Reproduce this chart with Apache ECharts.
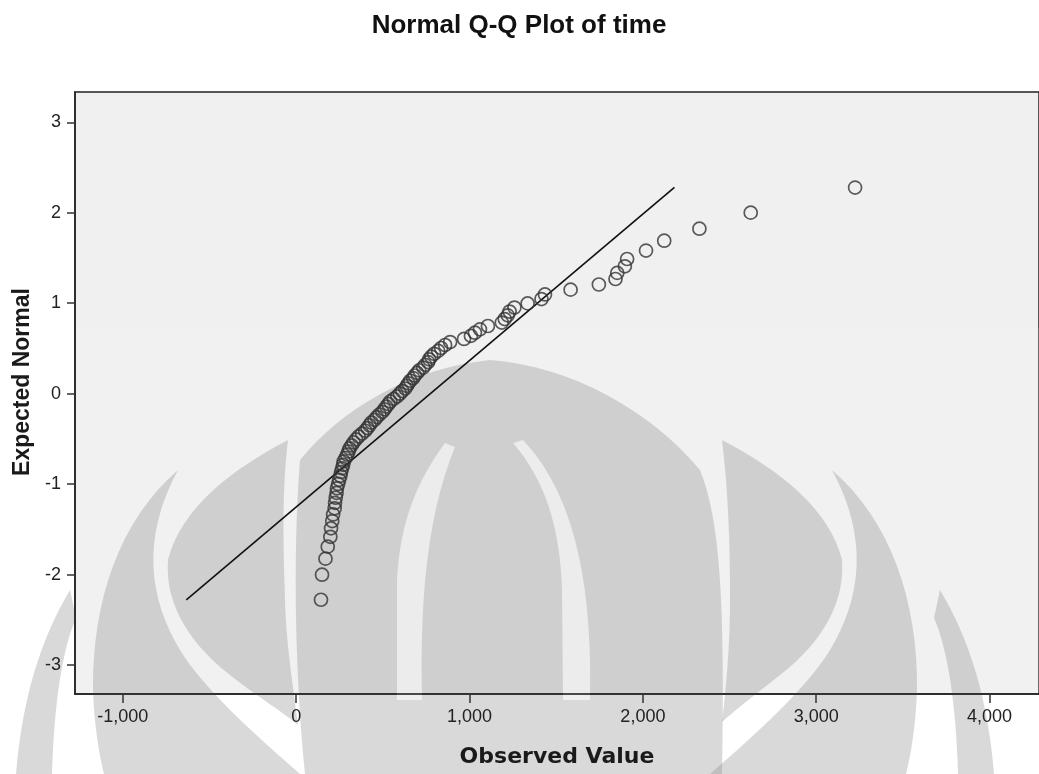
<!DOCTYPE html>
<html>
<head>
<meta charset="utf-8">
<style>
  html, body { margin: 0; padding: 0; background: #ffffff; }
  #chart { width: 1039px; height: 774px; }
</style>
<script src="https://cdn.jsdelivr.net/npm/echarts@6/dist/echarts.min.js"></script>
</head>
<body>
<div id="chart"></div>
<script>
var observedValues = [
  143, 149, 169, 182, 197, 201, 208, 213, 222, 224,
  228, 233, 235, 242, 248, 255, 259, 265, 271, 274,
  285, 294, 302, 308, 320, 331, 345, 360, 380, 398,
  411, 423, 434, 452, 465, 480, 497, 509, 520, 532,
  543, 563, 583, 598, 612, 629, 638, 647, 658, 675,
  684, 698, 710, 733, 744, 761, 767, 779, 796, 819,
  836, 859, 888, 968, 1008, 1031, 1060, 1106, 1186, 1203,
  1220, 1231, 1259, 1335, 1415, 1435, 1583, 1746, 1842, 1852,
  1896, 1909, 2018, 2123, 2326, 2622, 3224
];
// Expected normal values
var expectedNormal = [
  -2.278, -2.001, -1.824, -1.691, -1.582, -1.489, -1.408, -1.335, -1.268, -1.207,
  -1.150, -1.097, -1.046, -0.998, -0.952, -0.908, -0.866, -0.825, -0.786, -0.748,
  -0.711, -0.674, -0.639, -0.605, -0.571, -0.538, -0.505, -0.473, -0.441, -0.410,
  -0.380, -0.349, -0.319, -0.289, -0.259, -0.230, -0.201, -0.172, -0.143, -0.114,
  -0.086, -0.057, -0.029, 0.000, 0.029, 0.057, 0.086, 0.114, 0.143, 0.172,
  0.201, 0.230, 0.259, 0.289, 0.319, 0.349, 0.380, 0.410, 0.441, 0.473,
  0.505, 0.538, 0.571, 0.605, 0.639, 0.674, 0.711, 0.748, 0.786, 0.825,
  0.866, 0.908, 0.952, 0.998, 1.046, 1.097, 1.150, 1.207, 1.268, 1.335,
  1.408, 1.489, 1.582, 1.691, 1.824, 2.001, 2.278
];
// Reference line end points [observed, expected]
var refLineX = [-634, 2182];
var refLineY = [-2.28, 2.28];
// Tick values
var xTicks = [-1000, 0, 1000, 2000, 3000, 4000];
var yTicks = [-3, -2, -1, 0, 1, 2, 3];

var points = observedValues.map(function (v, i) { return [v, expectedNormal[i]]; });
var linePts = refLineX.map(function (v, i) { return [v, refLineY[i]]; });

// --- decorative watermark helper: turn a simple M/L/C/Z path into polygon points ---
function pathToPoints(d) {
  var toks = d.match(/[MLCZ]|-?\d+(\.\d+)?/g);
  var pts = [], i = 0, cmd = null, cx = 0, cy = 0;
  while (i < toks.length) {
    var t = toks[i];
    if (/[MLCZ]/.test(t)) { cmd = t; i++; if (cmd === 'Z') continue; }
    if (cmd === 'M' || cmd === 'L') {
      cx = +toks[i]; cy = +toks[i + 1]; i += 2; pts.push([cx, cy]);
    } else if (cmd === 'C') {
      var x1 = +toks[i], y1 = +toks[i + 1], x2 = +toks[i + 2], y2 = +toks[i + 3], x3 = +toks[i + 4], y3 = +toks[i + 5];
      i += 6;
      for (var s = 1; s <= 16; s++) {
        var u = s / 16, a = (1 - u) * (1 - u) * (1 - u), b = 3 * (1 - u) * (1 - u) * u, c = 3 * (1 - u) * u * u, e = u * u * u;
        pts.push([a * cx + b * x1 + c * x2 + e * x3, a * cy + b * y1 + c * y2 + e * y3]);
      }
      cx = x3; cy = y3;
    } else { i++; }
  }
  return pts;
}
function wmShape(d, fill) {
  return { type: 'polygon', z: 1, silent: true, shape: { points: pathToPoints(d) }, style: { fill: fill } };
}
var wm = 'rgba(140,140,140,0.33)';
var wmLight = 'rgba(255,255,255,0.6)';

var chart = echarts.init(document.getElementById('chart'), null, { renderer: 'canvas' });
chart.setOption({
  animation: false,
  backgroundColor: '#ffffff',
  title: {
    text: 'Normal Q-Q Plot of time',
    left: 514, top: 8, textAlign: 'center',
    textStyle: { fontFamily: 'Liberation Sans', fontWeight: 'bold', fontSize: 26, color: '#111' }
  },
  grid: {
    left: 75, top: 92, right: -5, bottom: 80,
    show: true, backgroundColor: '#f0f0f0', borderColor: '#222', borderWidth: 1.5
  },
  xAxis: {
    type: 'value', min: -1276, max: 4285, z: 5,
    name: 'Observed Value', nameLocation: 'middle', nameGap: 52,
    nameTextStyle: { fontFamily: 'DejaVu Sans', fontWeight: 'bold', fontSize: 22, color: '#1a1a1a' },
    axisLine: { show: true, onZero: false, lineStyle: { color: '#222', width: 1.5 } },
    axisTick: { show: true, length: 9, customValues: xTicks, lineStyle: { color: '#333', width: 1.5 } },
    axisLabel: {
      customValues: xTicks, margin: 14, fontFamily: 'Liberation Sans', fontSize: 18, color: '#222',
      formatter: function (v) { return Number(v).toLocaleString('en-US'); }
    },
    splitLine: { show: false }
  },
  yAxis: {
    type: 'value', min: -3.32, max: 3.335, z: 5,
    name: 'Expected Normal', nameLocation: 'middle', nameGap: 40, nameRotate: 90,
    nameTextStyle: { fontFamily: 'Liberation Sans', fontWeight: 'bold', fontSize: 23, color: '#1a1a1a', padding: [0, 0, 0, 22] },
    axisLine: { show: true, onZero: false, lineStyle: { color: '#222', width: 1.5 } },
    axisTick: { show: true, length: 8, customValues: yTicks, lineStyle: { color: '#333', width: 1.5 } },
    axisLabel: { customValues: yTicks, margin: 14, fontFamily: 'Liberation Sans', fontSize: 18, color: '#222' },
    splitLine: { show: false }
  },
  graphic: [
    // decorative watermark behind the plot
    { type: 'rect', z: 1, silent: true, shape: { x: 76, y: 328, width: 970, height: 365 }, style: { fill: 'rgba(255,255,255,0.12)' } },
    wmShape('M70 590 C40 640 22 700 16 774 L52 774 C54 705 62 650 76 618 Z', wm),
    wmShape('M178 470 C120 520 92 600 93 690 C94 720 98 750 104 774 L300 774 C250 730 205 690 180 650 C150 600 140 540 178 470 Z', wm),
    wmShape('M288 440 C230 470 180 510 168 560 C165 600 185 640 230 675 C255 695 280 710 298 725 C292 680 286 640 285 600 C283 540 282 490 288 440 Z', wm),
    wmShape('M300 460 C340 410 410 368 490 360 C570 366 650 410 700 470 C720 520 725 600 722 774 L305 774 C296 690 292 560 300 460 Z', wm),
    wmShape('M445 443 C418 480 400 520 397 580 L397 700 L422 700 C420 610 425 520 455 447 Z', wmLight),
    wmShape('M513 443 C545 480 560 527 562 590 L563 700 L590 700 C592 600 580 500 523 440 Z', wmLight),
    wmShape('M722 440 C780 470 830 510 842 560 C845 600 825 640 780 675 C755 695 735 710 722 722 C727 680 730 640 730 600 C730 540 728 490 722 440 Z', wm),
    wmShape('M832 470 C890 520 918 600 917 690 C916 720 912 750 906 774 L710 774 C760 730 805 690 830 650 C860 600 870 540 832 470 Z', wm),
    wmShape('M940 590 C970 640 988 700 994 774 L958 774 C956 705 948 650 934 618 Z', wm)
  ],
  series: [
    {
      type: 'line', data: linePts, showSymbol: false, symbol: 'none', z: 3,
      lineStyle: { color: '#111', width: 1.6 }, silent: true
    },
    {
      type: 'scatter', data: points, symbol: 'circle', symbolSize: 13, z: 4,
      itemStyle: { color: 'rgba(0,0,0,0)', borderColor: '#333', borderWidth: 1.7 }
    }
  ]
});
</script>
</body>
</html>
